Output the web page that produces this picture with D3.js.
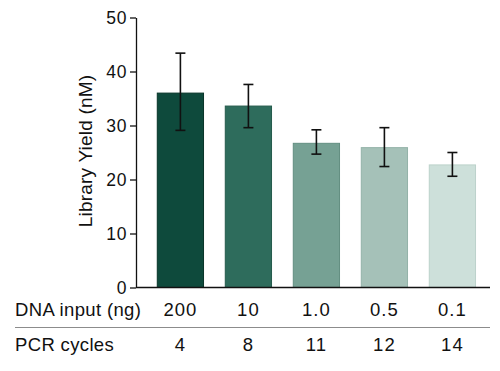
<!DOCTYPE html>
<html>
<head>
<meta charset="utf-8">
<script src="https://cdn.jsdelivr.net/npm/d3@7"></script>
<style>
  html, body { margin: 0; padding: 0; background: #fff; }
  svg { display: block; font-family: "Liberation Sans", Arial, Helvetica, sans-serif; }
</style>
</head>
<body>
<svg id="chart" width="500" height="371"></svg>
<script>
// ---- data ----
const dnaInput = ["200", "10", "1.0", "0.5", "0.1"];
const pcrCycles = ["4", "8", "11", "12", "14"];
const yieldMean = [36.0, 33.6, 26.7, 25.9, 22.7];
const errLow = [29.1, 29.6, 24.7, 22.4, 20.6];
const errHigh = [43.4, 37.6, 29.2, 29.6, 25.0];
const yTicks = [0, 10, 20, 30, 40, 50];
const barColors = ["#0e4a3c", "#2e6c5c", "#76a194", "#a5c1b8", "#cde0da"];
const barStrokes = ["#083528", "#245a4c", "#628e81", "#93b2a8", "#bcd2cb"];
const yLabel = "Library Yield (nM)";
const row1Label = "DNA input (ng)";
const row2Label = "PCR cycles";

// ---- layout ----
const svg = d3.select("#chart");
const axisX = 136, axisRight = 490;
const y = d3.scaleLinear().domain([0, 50]).range([287.5, 17.5]);
const x = d3.scaleBand().domain(d3.range(dnaInput.length))
  .range([146.4, 486.4]).paddingInner(0.32).paddingOuter(0.16);

// bars
svg.append("g").selectAll("rect").data(yieldMean).join("rect")
  .attr("x", (d, i) => x(i))
  .attr("y", d => y(d))
  .attr("width", x.bandwidth())
  .attr("height", d => y(0) - y(d))
  .attr("fill", (d, i) => barColors[i])
  .attr("stroke", (d, i) => barStrokes[i])
  .attr("stroke-width", 1);

// error bars
const eg = svg.append("g").attr("stroke", "#111").attr("stroke-width", 1.6).attr("fill", "none");
yieldMean.forEach((d, i) => {
  const cx = x(i) + x.bandwidth() / 2;
  eg.append("line").attr("x1", cx).attr("x2", cx).attr("y1", y(errLow[i])).attr("y2", y(errHigh[i]));
  eg.append("line").attr("x1", cx - 5).attr("x2", cx + 5).attr("y1", y(errHigh[i])).attr("y2", y(errHigh[i]));
  eg.append("line").attr("x1", cx - 5).attr("x2", cx + 5).attr("y1", y(errLow[i])).attr("y2", y(errLow[i]));
});

// y axis
const yAxis = d3.axisLeft(y).tickValues(yTicks).tickSize(6).tickPadding(3).tickSizeOuter(0);
const ya = svg.append("g").attr("transform", `translate(${axisX},0)`).call(yAxis);
ya.selectAll("path, line").attr("stroke", "#111").attr("stroke-width", 1.3);
ya.selectAll("text").attr("font-size", 17.5).attr("fill", "#111")
  .attr("letter-spacing", 0.6)
  .attr("font-family", "Liberation Sans, Arial, sans-serif");

// x axis line
svg.append("line").attr("x1", axisX).attr("x2", axisRight)
  .attr("y1", y(0)).attr("y2", y(0)).attr("stroke", "#111").attr("stroke-width", 1.3);

// y label
svg.append("text")
  .attr("transform", `translate(92,151) rotate(-90)`)
  .attr("text-anchor", "middle")
  .attr("font-size", 19).attr("fill", "#111")
  .attr("letter-spacing", 0.2)
  .text(yLabel);

// table rows
const row1Y = 315.5, row2Y = 351;
svg.append("text").attr("x", 15).attr("y", row1Y).attr("font-size", 18.5).attr("fill", "#111")
  .attr("letter-spacing", 0.35).text(row1Label);
svg.append("text").attr("x", 15).attr("y", row2Y).attr("font-size", 18.5).attr("fill", "#111")
  .attr("letter-spacing", 0.35).text(row2Label);

svg.append("g").selectAll("text").data(dnaInput).join("text")
  .attr("x", (d, i) => x(i) + x.bandwidth() / 2).attr("y", row1Y)
  .attr("text-anchor", "middle").attr("font-size", 18.5).attr("letter-spacing", 1)
  .attr("fill", "#111").text(d => d);
svg.append("g").selectAll("text").data(pcrCycles).join("text")
  .attr("x", (d, i) => x(i) + x.bandwidth() / 2).attr("y", row2Y)
  .attr("text-anchor", "middle").attr("font-size", 18.5).attr("letter-spacing", 1)
  .attr("fill", "#111").text(d => d);

// separator
svg.append("line").attr("x1", 15).attr("x2", axisRight).attr("y1", 327.5).attr("y2", 327.5)
  .attr("stroke", "#8c8c8c").attr("stroke-width", 1);
</script>
</body>
</html>
